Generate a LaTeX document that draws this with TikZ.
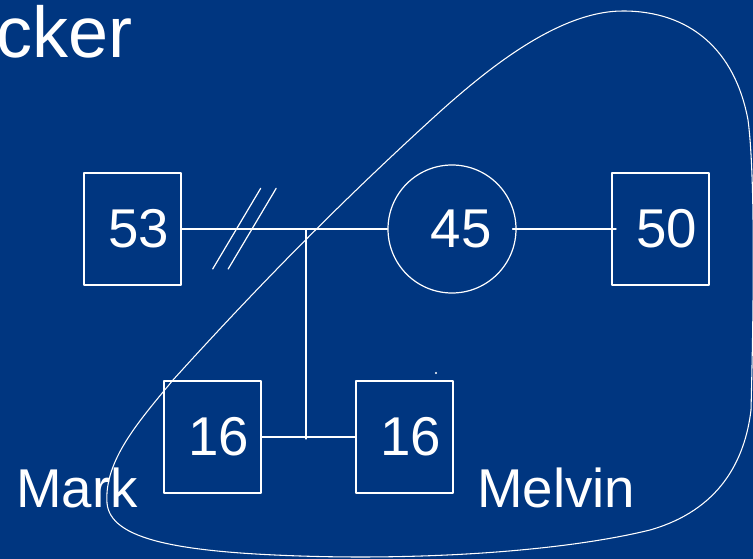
\documentclass[tikz,border=0pt]{standalone}
\usepackage{fontspec}
\setmainfont{Liberation Sans}
\usetikzlibrary{positioning}
\definecolor{slideblue}{RGB}{0,54,128}
\begin{document}
\begin{tikzpicture}[x=0.75pt,y=-0.75pt, line join=round, line cap=round, font=\fontsize{41}{48}\selectfont]
	\tikzset{
		box/.style={draw=white, line width=0.9pt, minimum width=72.75pt, minimum height=84pt, inner sep=0pt, text=white},
		ring/.style={draw=white, line width=0.9pt, circle, minimum size=96pt, inner sep=0pt, text=white},
		name label/.style={text=white, anchor=base west, inner sep=0pt},
		wire/.style={draw=white, line width=0.9pt}
	}
	\fill[slideblue] (0,0) rectangle (753,559);
	\useasboundingbox (0,0) rectangle (753,559);
	% title, cut at the left edge
	\node[name label, font=\fontsize{54}{60}\selectfont] (title) at (-4,58) {cker};
	% the people
	\node[box] (n53) at (132.5,229) {\hspace{9pt}53};
	\node[ring] (n45) at (452,229) {\hspace{14pt}45};
	\node[box] (n50) at (660.5,229) {\hspace{9pt}50};
	\node[box] (n16a) at (212.5,437) {\hspace{9pt}16};
	\node[box] (n16b) at (404.5,437) {\hspace{9pt}16};
	\node[name label] (mark) at (16,507) {Mark};
	\node[name label] (melvin) at (477,507) {Melvin};
	% relations
	\coordinate (jtop) at (306,229);
	\coordinate (jbot) at (306,439);
	\draw[wire] (n53) -- (n45);
	\draw[wire] (n16a) -- (n16b);
	\draw[wire] (jtop) -- (jbot);
	\draw[wire, shorten <=-3pt, shorten >=-3.5pt] (n45) -- (n50);
	\foreach \dx in {0,15.5}
	\draw[wire] (212.7+\dx,269) -- (260.7+\dx,188.3);
	\fill[white] (436,373) circle (0.8pt);
	% household outline
	\draw[wire, line width=0.8pt] (623,11) .. controls (690,11) and (735,50) .. (748,120)
		.. controls (756,180) and (753,330) .. (751,410)
		.. controls (745,460) and (720,510) .. (650,530)
		.. controls (560,552) and (420,560) .. (300,556)
		.. controls (180,552) and (110,540) .. (107,503)
		.. controls (104,460) and (140,420) .. (173,380)
		.. controls (250,295) and (330,212) .. (433,118)
		.. controls (490,66) and (560,11) .. (623,11) -- cycle;
\end{tikzpicture}
\end{document}
